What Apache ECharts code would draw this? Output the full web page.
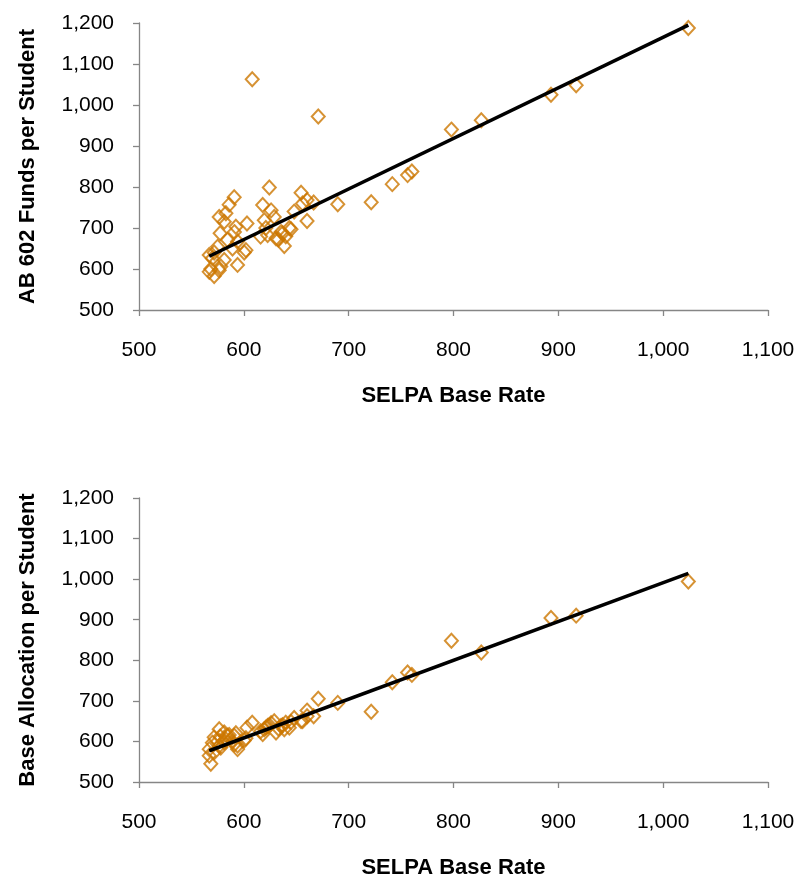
<!DOCTYPE html>
<html>
<head>
<meta charset="utf-8">
<script src="https://cdn.jsdelivr.net/npm/echarts@6/dist/echarts.min.js"></script>
<style>
html,body{margin:0;padding:0;background:#fff;}
#chart{width:800px;height:880px;}
</style>
</head>
<body>
<div id="chart"></div>
<script>
// SELPA base rate (x) shared by both charts
var baseRate = [567,567,568.5,570,571.7,571.7,574.9,576.5,576.5,577.4,578,581.3,581.3,582.9,584.4,586,589.2,590.8,591,592.4,594,594,600.4,602,603,608,616,618,619.5,621,622.7,624.3,626,629,630.7,633,635.5,637,638.6,640,643.4,645,648,654.6,656,660.3,660.3,666.6,671,689.6,721.5,741.6,756.2,760.3,798,826.5,893,917,1024];
// AB 602 funds per student (top chart)
var ab602Funds = [634,593,600,626,583,640,654,727,597,687,606,715,622,736,671,757,650,775,690,703,667,610,640,646,711,1063,679,756,719,700,683,799,743,727,675,672,690,687,656,680,700,697,740,786,760,768,717,762,972,758,763,807,829,838,940,963,1025,1048,1188];
// Base allocation per student (bottom chart)
var baseAlloc = [581,565,545,597,573,610,600,630,589,612,585,622,598,605,614,616,600,614,593,620,581,590,602,608,634,646,625,618,630,634,638,640,645,650,622,632,638,640,630,646,634,648,658,650,650,676,662,662,705,695,673,746,770,764,848,819,904,910,994];
// Trend line end points
var trendTopX = [567,1024], trendTopY = [631,1195];
var trendBotX = [567,1024], trendBotY = [577,1014];

var xTicks = {min:500,max:1100,interval:100};
var yTicks = {min:500,max:1200,interval:100};

function pairs(xs, ys){ return xs.map(function(x,i){return [x, ys[i]];}); }
function fmt(v){ return Number(v).toLocaleString('en-US'); }

var axisColor = '#868686';
var font = 'Liberation Sans, Arial, sans-serif';
var mk = '#CC7700';

function xAxis(gi){
  return {
    gridIndex: gi, type:'value', min:xTicks.min, max:xTicks.max, interval:xTicks.interval,
    name:'SELPA Base Rate', nameLocation:'middle', nameGap:75,
    nameTextStyle:{fontFamily:font, fontWeight:'bold', fontSize:22, color:'#000'},
    axisLine:{show:true, onZero:false, lineStyle:{color:axisColor, width:1.3}},
    axisTick:{show:true, inside:false, length:6, lineStyle:{color:axisColor, width:1.3}},
    axisLabel:{fontFamily:font, fontSize:21, color:'#000', margin:30, formatter:fmt},
    splitLine:{show:false}
  };
}
function yAxis(gi, name){
  return {
    gridIndex: gi, type:'value', min:yTicks.min, max:yTicks.max, interval:yTicks.interval,
    name:name, nameLocation:'middle', nameGap:100, nameRotate:90,
    nameTextStyle:{fontFamily:font, fontWeight:'bold', fontSize:22, color:'#000'},
    axisLine:{show:true, onZero:false, lineStyle:{color:axisColor, width:1.3}},
    axisTick:{show:true, inside:false, length:6, lineStyle:{color:axisColor, width:1.3}},
    axisLabel:{fontFamily:font, fontSize:21, color:'#000', margin:25, formatter:fmt},
    splitLine:{show:false}
  };
}
function scatter(gi, data){
  return {
    type:'scatter', xAxisIndex:gi, yAxisIndex:gi, data:data,
    symbol:'diamond', symbolSize:[13,14],
    itemStyle:{color:'rgba(0,0,0,0)', borderColor:mk, borderWidth:2},
    z:2, silent:true
  };
}
function trend(gi, xs, ys){
  return {
    type:'line', xAxisIndex:gi, yAxisIndex:gi, data:pairs(xs, ys),
    showSymbol:false, symbol:'none', lineStyle:{color:'#000', width:3.5},
    z:3, silent:true
  };
}

var chart = echarts.init(document.getElementById('chart'), null, {renderer:'canvas'});
chart.setOption({
  animation:false,
  backgroundColor:'#fff',
  grid:[
    {left:139, right:32, top:23, height:287},
    {left:139, right:32, top:498, height:287}
  ],
  xAxis:[xAxis(0), xAxis(1)],
  yAxis:[yAxis(0,'AB 602 Funds per Student'), yAxis(1,'Base Allocation per Student')],
  series:[
    scatter(0, pairs(baseRate, ab602Funds)),
    trend(0, trendTopX, trendTopY),
    scatter(1, pairs(baseRate, baseAlloc)),
    trend(1, trendBotX, trendBotY)
  ]
});
</script>
</body>
</html>
